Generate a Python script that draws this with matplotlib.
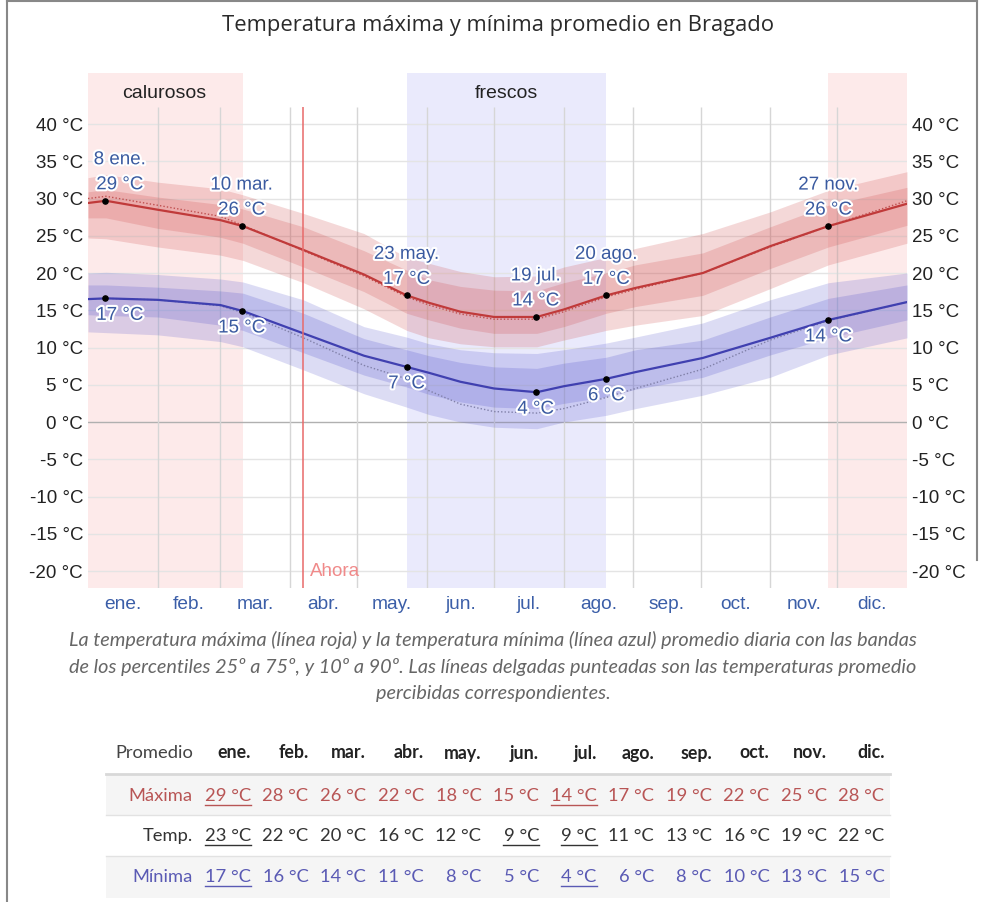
import matplotlib.pyplot as plt
import matplotlib.patheffects as pe
from matplotlib.lines import Line2D
from matplotlib.patches import Rectangle

W, H = 982, 902

days = [0, 8, 31, 59, 69, 96, 123, 142, 152, 166, 181, 200, 212, 231, 244, 274, 304, 330, 365]

max_avg = [29.4, 29.7, 28.5, 27.1, 26.3, 23.1, 19.8, 17.0, 16.0, 14.8, 14.1, 14.1, 15.1, 17.0, 18.0, 20.0, 23.6, 26.3, 29.3]
max_p10 = [24.7, 24.6, 23.5, 22.4, 21.7, 18.7, 15.2, 12.3, 11.3, 10.5, 10.1, 10.1, 11.0, 12.3, 13.0, 14.3, 17.9, 21.1, 24.0]
max_p25 = [27.4, 27.4, 26.0, 24.8, 24.0, 20.8, 17.5, 14.6, 13.7, 12.6, 11.9, 11.9, 12.8, 14.6, 15.5, 17.0, 20.6, 23.5, 26.4]
max_p75 = [30.9, 31.2, 30.2, 29.2, 28.6, 26.2, 23.0, 20.4, 19.1, 18.2, 17.7, 17.6, 18.7, 20.0, 21.1, 22.7, 26.2, 29.1, 31.5]
max_p90 = [32.8, 33.2, 32.2, 31.3, 30.5, 28.0, 25.3, 22.1, 21.3, 20.2, 19.5, 19.6, 20.8, 22.1, 23.3, 25.3, 28.2, 31.1, 33.6]
max_feels = [30.0, 30.3, 29.1, 27.6, 26.4, 23.0, 19.6, 16.8, 15.7, 14.5, 13.8, 13.8, 14.8, 16.8, 17.8, 20.0, 23.5, 26.3, 29.7]

min_avg = [16.5, 16.6, 16.4, 15.7, 14.9, 11.9, 8.9, 7.4, 6.6, 5.4, 4.5, 4.0, 4.8, 5.8, 6.7, 8.6, 11.3, 13.7, 16.1]
min_p10 = [12.1, 12.0, 11.7, 10.8, 10.1, 7.0, 3.8, 2.0, 1.0, 0.0, -0.7, -0.9, 0.0, 0.9, 1.8, 3.6, 6.0, 9.0, 11.3]
min_p25 = [14.4, 14.3, 14.1, 13.0, 12.3, 9.3, 6.3, 4.7, 3.7, 2.7, 2.0, 1.8, 2.5, 3.4, 4.4, 6.0, 9.0, 11.3, 13.7]
min_p75 = [18.4, 18.4, 18.1, 17.6, 17.3, 14.6, 11.2, 9.7, 8.9, 8.0, 7.4, 7.2, 7.9, 8.7, 9.7, 11.0, 14.1, 16.6, 18.4]
min_p90 = [20.0, 20.1, 19.8, 19.2, 18.8, 16.4, 12.8, 11.4, 10.5, 9.7, 9.3, 9.2, 9.7, 10.6, 11.4, 13.3, 16.4, 18.7, 20.0]
min_feels = [16.5, 16.6, 16.4, 15.6, 14.7, 11.3, 7.6, 5.8, 4.2, 2.4, 1.4, 1.2, 1.8, 3.3, 4.5, 7.1, 11.0, 13.6, 16.1]

# marked points
mark_days = [7.5, 68.5, 142, 199.5, 231, 330]
mark_dates = ["8 ene.", "10 mar.", "23 may.", "19 jul.", "20 ago.", "27 nov."]
mark_max = [29.7, 26.3, 17.0, 14.1, 17.0, 26.3]
mark_max_lbl = ["29 °C", "26 °C", "17 °C", "14 °C", "17 °C", "26 °C"]
mark_min = [16.6, 14.9, 7.4, 4.0, 5.8, 13.7]
mark_min_lbl = ["17 °C", "15 °C", "7 °C", "4 °C", "6 °C", "14 °C"]

months = ["ene.", "feb.", "mar.", "abr.", "may.", "jun.", "jul.", "ago.", "sep.", "oct.", "nov.", "dic."]
month_len = [31, 28, 31, 30, 31, 30, 31, 31, 30, 31, 30, 31]
hot_season = [(0, 69), (330, 365)]
cool_season = (142, 231)
now_day = 96

# table
tab_max = [29, 28, 26, 22, 18, 15, 14, 17, 19, 22, 25, 28]
tab_avg = [23, 22, 20, 16, 12, 9, 9, 11, 13, 16, 19, 22]
tab_min = [17, 16, 14, 11, 8, 5, 4, 6, 8, 10, 13, 15]
under_max = [0, 6]
under_avg = [0, 5, 6]
under_min = [0, 6]

plt.rcParams['font.family'] = ['Liberation Sans', 'DejaVu Sans']

fig = plt.figure(figsize=(W / 100, H / 100), dpi=100)
ax = fig.add_axes([88 / W, 1 - 588 / H, (907 - 88) / W, (588 - 73) / H])
ymin, ymax = -22.28, 46.85
ax.set_xlim(0, 365)
ax.set_ylim(ymin, ymax)
for s in ax.spines.values():
    s.set_visible(False)

starts = [sum(month_len[:i]) for i in range(12)]
mids = [starts[i] + month_len[i] / 2 for i in range(12)]

# seasons
for a, b in hot_season:
    ax.axvspan(a, b, color='#fdeaea', zorder=0, lw=0)
ax.axvspan(cool_season[0], cool_season[1], color='#eaeafc', zorder=0, lw=0)
ax.text(34, 44.1, "calurosos", ha='center', va='center', fontsize=14, color='#222')
ax.text(186.5, 44.1, "frescos", ha='center', va='center', fontsize=14, color='#222')

# grid
for v in range(-20, 45, 5):
    ax.axhline(v, color='#b0b0b0' if v == 0 else '#e4e4e4', lw=1, zorder=1)
ax.vlines(starts[1:], ymin, 42.3, color='#d6d6d6', lw=1, zorder=1)

# bands
ax.fill_between(days, max_p10, max_p90, color=(0.8, 0.25, 0.25), alpha=0.2, lw=0, zorder=2)
ax.fill_between(days, max_p25, max_p75, color=(0.8, 0.25, 0.25), alpha=0.2, lw=0, zorder=2)
ax.fill_between(days, min_p10, min_p90, color=(0.32, 0.32, 0.8), alpha=0.2, lw=0, zorder=2)
ax.fill_between(days, min_p25, min_p75, color=(0.32, 0.32, 0.8), alpha=0.22, lw=0, zorder=2)

ax.plot(days, max_feels, color='#c05050', lw=1, ls=(0, (1, 1.5)), zorder=3)
ax.plot(days, min_feels, color='#8080a8', lw=1, ls=(0, (1, 1.5)), zorder=3)
ax.plot(days, max_avg, color='#c03a3a', lw=1.6, zorder=4)
ax.plot(days, min_avg, color='#4040b0', lw=1.6, zorder=4)

# now line
ax.vlines(now_day, ymin, 42.3, color='#e86a6a', lw=1.1, zorder=5)
ax.text(now_day + 3, -20.1, "Ahora", ha='left', va='center', fontsize=13.5, color='#f08a8a', zorder=5)

# marks
halo = [pe.withStroke(linewidth=3, foreground='white')]
lblc = '#3a5aa0'
for i, d in enumerate(mark_days):
    dx = 15 if i == 0 else 0
    ax.scatter([d, d], [mark_max[i], mark_min[i]], s=14, color='black', zorder=6)
    ax.annotate(mark_dates[i], (d, mark_max[i]), xytext=(dx, 41), textcoords='offset pixels',
                ha='center', va='center', fontsize=13.5, color=lblc, path_effects=halo, zorder=7)
    ax.annotate(mark_max_lbl[i], (d, mark_max[i]), xytext=(dx, 16), textcoords='offset pixels',
                ha='center', va='center', fontsize=13.5, color=lblc, path_effects=halo, zorder=7)
    ax.annotate(mark_min_lbl[i], (d, mark_min[i]), xytext=(dx, -17), textcoords='offset pixels',
                ha='center', va='center', fontsize=13.5, color=lblc, path_effects=halo, zorder=7)

ax.set_yticks(range(-20, 45, 5))
ax.set_yticklabels([f"{v} °C" for v in range(-20, 45, 5)])
ax.tick_params(axis='y', length=0, labelleft=True, labelright=True, pad=3.6,
               labelsize=13.5, labelcolor='#222')
ax.set_xticks(mids)
ax.set_xticklabels(months)
ax.tick_params(axis='x', length=0, pad=6, labelsize=13.8, labelcolor='#3b5ea8')


def fx(x):
    return x / W


def fy(y):
    return 1 - y / H


fig.text(fx(498), fy(25), "Temperatura máxima y mínima promedio en Bragado",
         ha='center', va='center', fontsize=15.8, color='#2a2a2a', family=['Open Sans', 'DejaVu Sans'])

caption = ["La temperatura máxima (línea roja) y la temperatura mínima (línea azul) promedio diaria con las bandas",
           "de los percentiles 25º a 75º, y 10º a 90º. Las líneas delgadas punteadas son las temperaturas promedio",
           "percibidas correspondientes."]
for i, line in enumerate(caption):
    fig.text(fx(493), fy(640 + 27 * i), line, ha='center', va='center', fontsize=14.3,
             style='italic', color='#666', family=['Lato', 'DejaVu Sans'])

# table
tfam = ['Lato', 'DejaVu Sans']
fig.patches.append(Rectangle((fx(106), fy(815)), fx(890) - fx(106), 40 / H,
                             transform=fig.transFigure, color='#f5f5f5', lw=0))
fig.patches.append(Rectangle((fx(106), fy(898)), fx(890) - fx(106), 41 / H,
                             transform=fig.transFigure, color='#f5f5f5', lw=0))
fig.add_artist(Line2D([fx(106), fx(890)], [fy(774), fy(774)], color='#d8d8d8', lw=2))
fig.add_artist(Line2D([fx(106), fx(890)], [fy(815), fy(815)], color='#e2e2e2', lw=1))
fig.add_artist(Line2D([fx(106), fx(890)], [fy(856), fy(856)], color='#e2e2e2', lw=1))

col_right = [251 + 57.6 * i for i in range(12)]
fig.text(fx(193), fy(753), "Promedio", ha='right', va='center', fontsize=13.2, color='#444', family=tfam)
for i, m in enumerate(months):
    fig.text(fx(col_right[i]), fy(753), m, ha='right', va='center', fontsize=12.8,
             weight='bold', color='#222', family=tfam)

rows = [("Máxima", tab_max, under_max, '#b85555', 796),
        ("Temp.", tab_avg, under_avg, '#333333', 836),
        ("Mínima", tab_min, under_min, '#5a5ab4', 877)]
to_underline = []
for name, vals, under, col, y in rows:
    fig.text(fx(193), fy(y), name, ha='right', va='center', fontsize=13.2, color=col, family=tfam)
    for i, v in enumerate(vals):
        t = fig.text(fx(col_right[i]), fy(y), f"{v} °C", ha='right', va='center',
                     fontsize=13.2, color=col, family=tfam)
        if i in under:
            to_underline.append((t, col))

# frame
fig.add_artist(Line2D([fx(7), fx(977)], [fy(1), fy(1)], color='#888', lw=1.5))
fig.add_artist(Line2D([fx(7), fx(7)], [fy(1), fy(902)], color='#888', lw=1.5))
fig.add_artist(Line2D([fx(977), fx(977)], [fy(1), fy(560)], color='#888', lw=1.5))

fig.canvas.draw()
r = fig.canvas.get_renderer()
for t, col in to_underline:
    bb = t.get_window_extent(r)
    fig.add_artist(Line2D([bb.x0 / W, bb.x1 / W], [(bb.y0 - 1) / H, (bb.y0 - 1) / H], color=col, lw=1))

fig.savefig("out.png", dpi=100)
